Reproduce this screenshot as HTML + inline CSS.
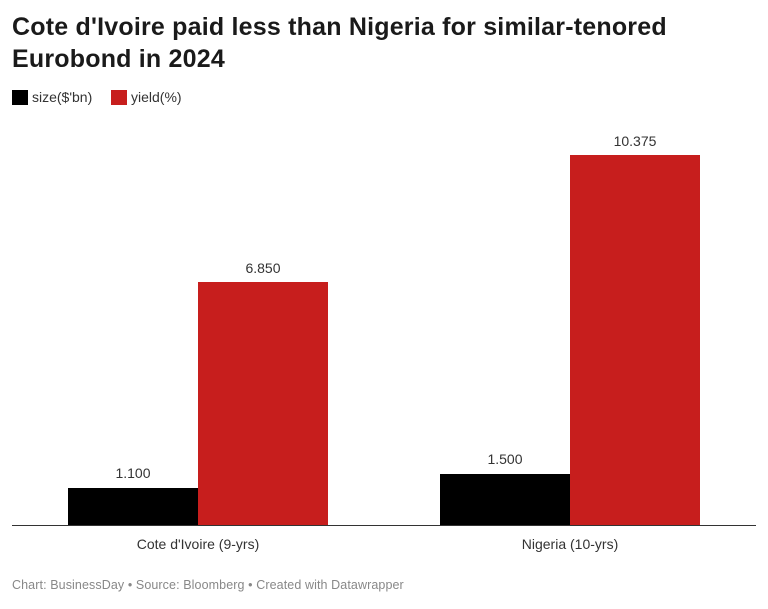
<!DOCTYPE html>
<html><head><meta charset="utf-8"><style>
body{margin:0;width:768px;height:609px;background:#fff;font-family:"Liberation Sans",Arial,sans-serif;position:relative;overflow:hidden;color:#222}
.t{position:absolute;left:12px;top:11px;font-size:25px;font-weight:bold;line-height:32px;color:#1a1a1a;letter-spacing:0.2px}
.lg{position:absolute;top:89px;font-size:14px;color:#333;line-height:17px}
.sw{display:inline-block;width:16px;height:15px;vertical-align:-3px;margin-right:4px}
.b{position:absolute}
.v{position:absolute;font-size:14px;color:#333;width:130px;text-align:center}
.c{position:absolute;font-size:14px;color:#333;width:300px;text-align:center;top:536px}
.f{position:absolute;left:12px;top:578px;font-size:12.5px;color:#888;letter-spacing:0.1px}
</style></head><body>
<div class="t">Cote d'Ivoire paid less than Nigeria for similar-tenored<br>Eurobond in 2024</div>
<div class="lg" style="left:12px"><span class="sw" style="background:#000"></span>size($'bn)</div>
<div class="lg" style="left:111px"><span class="sw" style="background:#c71e1d"></span>yield(%)</div>
<div class="b" style="left:68px;top:488px;width:130px;height:38px;background:#000"></div>
<div class="b" style="left:198px;top:282px;width:130px;height:244px;background:#c71e1d"></div>
<div class="b" style="left:440px;top:474px;width:130px;height:52px;background:#000"></div>
<div class="b" style="left:570px;top:155px;width:130px;height:371px;background:#c71e1d"></div>
<div class="b" style="left:12px;top:525px;width:744px;height:1px;background:#333"></div>
<div class="v" style="left:68px;top:465px">1.100</div>
<div class="v" style="left:198px;top:260px">6.850</div>
<div class="v" style="left:440px;top:451px">1.500</div>
<div class="v" style="left:570px;top:133px">10.375</div>
<div class="c" style="left:48px">Cote d'Ivoire (9-yrs)</div>
<div class="c" style="left:420px">Nigeria (10-yrs)</div>
<div class="f">Chart: BusinessDay • Source: Bloomberg • Created with Datawrapper</div>
</body></html>
